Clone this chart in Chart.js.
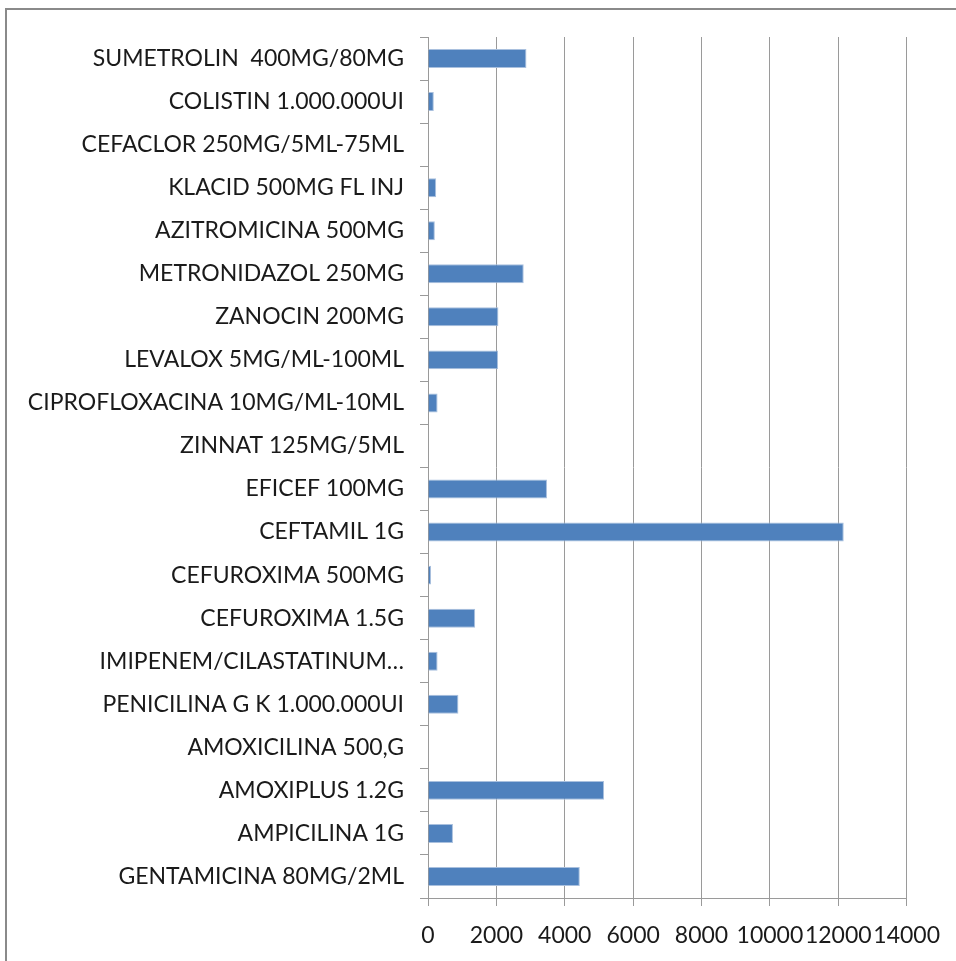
<!DOCTYPE html>
<html>
<head>
<meta charset="utf-8">
<script src="https://cdn.jsdelivr.net/npm/chart.js@4"></script>
<style>
html,body{margin:0;padding:0;background:#fff;}
#wrap{position:relative;width:956px;height:961px;overflow:hidden;}
#frame{position:absolute;left:5px;top:8px;width:1000px;height:1000px;border:2px solid #8a8a8a;box-sizing:border-box;}
canvas{position:absolute;left:0;top:0;}
</style>
</head>
<body>
<div id="wrap">
<div id="frame"></div>
<canvas id="c" width="956" height="961"></canvas>
</div>
<script>
const categories = [
  "SUMETROLIN  400MG/80MG",
  "COLISTIN 1.000.000UI",
  "CEFACLOR 250MG/5ML-75ML",
  "KLACID 500MG FL INJ",
  "AZITROMICINA 500MG",
  "METRONIDAZOL 250MG",
  "ZANOCIN 200MG",
  "LEVALOX 5MG/ML-100ML",
  "CIPROFLOXACINA 10MG/ML-10ML",
  "ZINNAT 125MG/5ML",
  "EFICEF 100MG",
  "CEFTAMIL 1G",
  "CEFUROXIMA 500MG",
  "CEFUROXIMA 1.5G",
  "IMIPENEM/CILASTATINUM\u2026",
  "PENICILINA G K 1.000.000UI",
  "AMOXICILINA 500,G",
  "AMOXIPLUS 1.2G",
  "AMPICILINA 1G",
  "GENTAMICINA 80MG/2ML"
];
const values = [2880, 170, 0, 240, 200, 2800, 2060, 2050, 280, 0, 3480, 12160, 90, 1380, 280, 890, 0, 5150, 730, 4440];
const xTicks = [0, 2000, 4000, 6000, 8000, 10000, 12000, 14000];

const FONT = "Lato";
new Chart(document.getElementById('c'), {
  type: 'bar',
  data: {
    labels: categories,
    datasets: [{
      data: values,
      backgroundColor: '#4F81BD',
      borderColor: '#a9c0de',
      borderWidth: 1,
      categoryPercentage: 1,
      barPercentage: 0.44
    }]
  },
  options: {
    indexAxis: 'y',
    responsive: false,
    animation: false,
    devicePixelRatio: 1,
    layout: { padding: { top: 37, right: 49, left: 0, bottom: 0 } },
    plugins: { legend: { display: false }, tooltip: { enabled: false } },
    scales: {
      x: {
        min: 0, max: 14000,
        afterBuildTicks: s => { s.ticks = xTicks.map(v => ({ value: v })); },
        afterFit: s => { s.height = 63; },
        grid: { color: '#9a9a9a', lineWidth: 1, tickLength: 8, drawTicks: true },
        border: { color: '#9a9a9a' },
        ticks: { color: '#1a1a1a', font: { family: FONT, size: 23 }, padding: 16, maxRotation: 0, autoSkip: false,
                 callback: v => String(v) }
      },
      y: {
        afterFit: s => { s.width = 428; },
        grid: { offset: true, drawOnChartArea: false, color: '#9a9a9a', tickLength: 8 },
        border: { color: '#9a9a9a' },
        ticks: { color: '#1a1a1a', font: { family: FONT, size: 23 }, padding: 16, autoSkip: false }
      }
    }
  }
});
</script>
</body>
</html>
